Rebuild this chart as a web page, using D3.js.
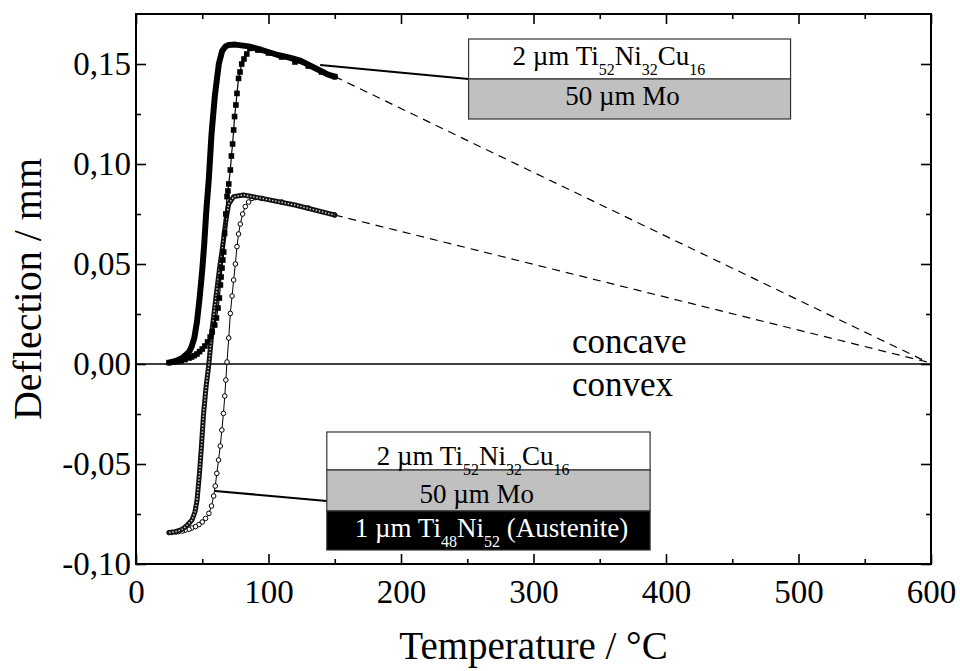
<!DOCTYPE html>
<html>
<head>
<meta charset="utf-8">
<script src="https://cdn.jsdelivr.net/npm/d3@7"></script>
<style>
  body { margin: 0; background: #fff; }
  text { font-family: "Liberation Serif", "Times New Roman", serif; fill: #000; }
</style>
</head>
<body>
<div id="chart"></div>
<script>
// Ti52Ni32Cu16 / Mo bimorph, heating and cooling (upper loop)
const topHeatT = [25, 30, 35, 40, 42, 44, 46, 48, 50, 51.5, 53, 55, 57, 59.5, 62.5, 65, 67.5, 70, 75, 85, 95, 107, 116, 124, 135, 145, 150];
const topHeatD = [0.0007, 0.0015, 0.003, 0.006, 0.0087, 0.013, 0.021, 0.033, 0.047, 0.06, 0.076, 0.093, 0.115, 0.134, 0.150, 0.1565, 0.1588, 0.1595, 0.1597, 0.1588, 0.157, 0.1545, 0.1532, 0.1517, 0.148, 0.1447, 0.1437];

const topCoolT = [150, 140, 130, 120, 110, 100, 92, 86, 83.6, 81.5, 79.8, 78.5, 77.4, 76.2, 75.4, 74.4, 73.7, 72.9, 72, 71.2, 70, 69.4, 68.7, 67.8, 66.9, 66.2, 65.5, 64.9, 64.2, 63.7, 62.9, 61.9, 60.7, 59.4, 57.5, 56, 54, 52, 50, 48, 46, 44, 42, 40, 37, 34, 31, 28, 25];
const topCoolD = [0.1437, 0.146, 0.149, 0.151, 0.1535, 0.1555, 0.157, 0.1578, 0.155, 0.1525, 0.150, 0.146, 0.1428, 0.1353, 0.1295, 0.1237, 0.117, 0.110, 0.104, 0.097, 0.090, 0.0865, 0.0837, 0.075, 0.0653, 0.056, 0.052, 0.048, 0.0435, 0.0395, 0.033, 0.028, 0.023, 0.0195, 0.016, 0.0135, 0.011, 0.009, 0.0075, 0.0062, 0.005, 0.0042, 0.0035, 0.003, 0.0022, 0.0016, 0.0012, 0.0009, 0.0007];

// with the additional Ti48Ni52 layer (lower loop)
const lowHeatT = [25, 30, 34.8, 38, 42.3, 44.5, 46.1, 47.9, 49.4, 51, 52.9, 55, 57.4, 60.4, 62.9, 65.4, 67.9, 69.9, 73.7, 81, 95, 120, 145, 150];
const lowHeatD = [-0.0843, -0.0838, -0.0827, -0.081, -0.078, -0.074, -0.068, -0.0547, -0.041, -0.0247, -0.0113, 0.0, 0.017, 0.0337, 0.047, 0.0587, 0.072, 0.080, 0.0837, 0.0845, 0.0828, 0.0795, 0.0753, 0.0745];

const lowCoolT = [150, 130, 110, 95, 90, 87.5, 85, 82.5, 80.5, 78.7, 77.4, 76.2, 75, 73.7, 72.5, 71.2, 70, 68.7, 67.8, 67, 66, 64.8, 63.6, 62.3, 61, 59.8, 58.6, 57, 55, 52.5, 50, 47.5, 44.9, 42, 40, 37, 35, 32, 30, 27, 25];
const lowCoolD = [0.0745, 0.078, 0.081, 0.0828, 0.0832, 0.0828, 0.081, 0.0787, 0.075, 0.070, 0.065, 0.0587, 0.050, 0.042, 0.034, 0.0253, 0.013, 0.001, -0.008, -0.016, -0.0247, -0.033, -0.041, -0.048, -0.0547, -0.061, -0.066, -0.071, -0.0747, -0.0772, -0.079, -0.0803, -0.0813, -0.082, -0.0826, -0.0831, -0.0835, -0.0838, -0.084, -0.0842, -0.0843];

// linear extrapolations to the flat state
const extrapT = [150, 597];
const extrapTopD = [0.1437, 0.001];
const extrapLowD = [0.0745, 0.001];

const xTicks = [0, 100, 200, 300, 400, 500, 600];
const xMinor = [50, 150, 250, 350, 450, 550];
const yTicks = [-0.10, -0.05, 0.00, 0.05, 0.10, 0.15];
const yTickLabels = ["-0,10", "-0,05", "0,00", "0,05", "0,10", "0,15"];
const yMinor = [-0.075, -0.025, 0.025, 0.075, 0.125];

const width = 960, height = 671;
const x = d3.scaleLinear().domain([0, 600]).range([136, 931]);
const y = d3.scaleLinear().domain([-0.1, 0.175]).range([564, 14]);

const svg = d3.select("#chart").append("svg")
    .attr("width", width)
    .attr("height", height);

function pts(ts, ds) { return ts.map(function(t, i) { return {t: t, d: ds[i]}; }); }

const line = d3.line()
    .x(function(p) { return x(p.t); })
    .y(function(p) { return y(p.d); });

// dashed extrapolations
[extrapTopD, extrapLowD].forEach(function(ds) {
    svg.append("path")
        .datum(pts(extrapT, ds))
        .attr("d", line)
        .attr("fill", "none")
        .attr("stroke", "#000")
        .attr("stroke-width", 1.2)
        .attr("stroke-dasharray", "8,6");
});

// zero line
svg.append("line")
    .attr("x1", x(0)).attr("x2", x(600))
    .attr("y1", y(0)).attr("y2", y(0))
    .attr("stroke", "#000")
    .attr("stroke-width", 1.5);

// lower loop, cooling: sparse open circles
svg.append("path")
    .datum(pts(lowCoolT, lowCoolD))
    .attr("d", line)
    .attr("fill", "none")
    .attr("stroke", "#000")
    .attr("stroke-width", 1);
svg.selectAll("circle.lc")
    .data(pts(lowCoolT, lowCoolD))
    .enter().append("circle")
    .attr("class", "lc")
    .attr("cx", function(p) { return x(p.t); })
    .attr("cy", function(p) { return y(p.d); })
    .attr("r", 2.3)
    .attr("fill", "#fff")
    .attr("stroke", "#000")
    .attr("stroke-width", 1);

// lower loop, heating: dense open circles -> dark band
svg.append("path")
    .datum(pts(lowHeatT, lowHeatD))
    .attr("d", line)
    .attr("fill", "none")
    .attr("stroke", "#111")
    .attr("stroke-width", 5)
    .attr("stroke-linejoin", "round")
    .attr("stroke-linecap", "round");
svg.append("path")
    .datum(pts(lowHeatT, lowHeatD))
    .attr("d", line)
    .attr("fill", "none")
    .attr("stroke", "#ccc")
    .attr("stroke-width", 1.6)
    .attr("stroke-dasharray", "1.4,1.8");

// upper loop, cooling: filled squares
svg.append("path")
    .datum(pts(topCoolT, topCoolD))
    .attr("d", line)
    .attr("fill", "none")
    .attr("stroke", "#000")
    .attr("stroke-width", 1.2);
svg.selectAll("rect.tc")
    .data(pts(topCoolT, topCoolD))
    .enter().append("rect")
    .attr("class", "tc")
    .attr("x", function(p) { return x(p.t) - 2.8; })
    .attr("y", function(p) { return y(p.d) - 2.8; })
    .attr("width", 5.6)
    .attr("height", 5.6)
    .attr("fill", "#000");

// upper loop, heating: dense filled squares -> thick line
svg.append("path")
    .datum(pts(topHeatT, topHeatD))
    .attr("d", line)
    .attr("fill", "none")
    .attr("stroke", "#000")
    .attr("stroke-width", 6)
    .attr("stroke-linejoin", "round")
    .attr("stroke-linecap", "round");

// axes frame
svg.append("rect")
    .attr("x", x(0)).attr("y", y(0.175))
    .attr("width", x(600) - x(0))
    .attr("height", y(-0.1) - y(0.175))
    .attr("fill", "none")
    .attr("stroke", "#000")
    .attr("stroke-width", 2);

function styleAxis(g) {
    g.select(".domain").remove();
    g.selectAll(".tick line").attr("stroke", "#000").attr("stroke-width", 1.6);
    g.selectAll(".tick text")
        .style("font-family", "'Liberation Serif', 'Times New Roman', serif")
        .style("font-size", "33px")
        .attr("fill", "#000");
}

svg.append("g")
    .attr("transform", "translate(0," + y(-0.1) + ")")
    .call(d3.axisBottom(x).tickValues(xTicks).tickSize(-10).tickPadding(9).tickFormat(d3.format("d")))
    .call(styleAxis)
    .selectAll(".tick text").attr("dy", "0.9em");
svg.append("g")
    .attr("transform", "translate(0," + y(-0.1) + ")")
    .call(d3.axisBottom(x).tickValues(xMinor).tickSize(-5).tickFormat(""))
    .call(styleAxis);
svg.append("g")
    .attr("transform", "translate(0," + y(0.175) + ")")
    .call(d3.axisTop(x).tickValues(xTicks).tickSize(-10).tickFormat(""))
    .call(styleAxis);
svg.append("g")
    .attr("transform", "translate(0," + y(0.175) + ")")
    .call(d3.axisTop(x).tickValues(xMinor).tickSize(-5).tickFormat(""))
    .call(styleAxis);

svg.append("g")
    .attr("transform", "translate(" + x(0) + ",0)")
    .call(d3.axisLeft(y).tickValues(yTicks).tickSize(-10).tickPadding(5)
        .tickFormat(function(v, i) { return yTickLabels[i]; }))
    .call(styleAxis);
svg.append("g")
    .attr("transform", "translate(" + x(0) + ",0)")
    .call(d3.axisLeft(y).tickValues(yMinor).tickSize(-5).tickFormat(""))
    .call(styleAxis);
svg.append("g")
    .attr("transform", "translate(" + x(600) + ",0)")
    .call(d3.axisRight(y).tickValues(yTicks).tickSize(-10).tickFormat(""))
    .call(styleAxis);
svg.append("g")
    .attr("transform", "translate(" + x(600) + ",0)")
    .call(d3.axisRight(y).tickValues(yMinor).tickSize(-5).tickFormat(""))
    .call(styleAxis);

// axis titles
svg.append("text")
    .attr("x", (x(0) + x(600)) / 2)
    .attr("y", 659)
    .attr("text-anchor", "middle")
    .style("font-size", "39px")
    .text("Temperature / °C");
svg.append("text")
    .attr("transform", "translate(41," + (y(-0.1) + y(0.175)) / 2 + ") rotate(-90)")
    .attr("text-anchor", "middle")
    .style("font-size", "40px")
    .text("Deflection / mm");

// concave / convex
svg.append("text")
    .attr("x", x(329)).attr("y", y(0.0055))
    .style("font-size", "35px")
    .text("concave");
svg.append("text")
    .attr("x", x(329)).attr("y", y(-0.016))
    .style("font-size", "35px")
    .text("convex");

// layer sketches
function chem(g, cx, cy, parts, color, anchor) {
    const t = g.append("text")
        .attr("x", cx).attr("y", cy)
        .attr("text-anchor", anchor)
        .style("font-size", "27px")
        .attr("fill", color)
        .style("fill", color);
    let shifted = false;
    parts.forEach(function(p) {
        const ts = t.append("tspan").text(p.s).style("fill", color);
        if (p.sub) {
            ts.attr("dy", shifted ? 0 : 10).style("font-size", "16px");
            shifted = true;
        } else {
            ts.attr("dy", shifted ? -10 : 0).style("font-size", "27px");
            shifted = false;
        }
    });
}

const tinicu = [{s: "2 µm Ti"}, {s: "52", sub: true}, {s: "Ni"}, {s: "32", sub: true}, {s: "Cu"}, {s: "16", sub: true}];
const mo = [{s: "50 µm Mo"}];
const tini = [{s: "1 µm Ti"}, {s: "48", sub: true}, {s: "Ni"}, {s: "52", sub: true}, {s: " (Austenite)"}];

// pointers
svg.append("line")
    .attr("x1", x(139)).attr("y1", y(0.1495))
    .attr("x2", x(251)).attr("y2", y(0.1425))
    .attr("stroke", "#000").attr("stroke-width", 2.2);
svg.append("line")
    .attr("x1", x(59.6)).attr("y1", y(-0.0635))
    .attr("x2", x(144)).attr("y2", y(-0.0685))
    .attr("stroke", "#000").attr("stroke-width", 2.2);

function stack(t0, t1, ds, fills) {
    const g = svg.append("g");
    fills.forEach(function(f, i) {
        g.append("rect")
            .attr("x", x(t0)).attr("y", y(ds[i]))
            .attr("width", x(t1) - x(t0))
            .attr("height", y(ds[i + 1]) - y(ds[i]))
            .attr("fill", f)
            .attr("stroke", "#333")
            .attr("stroke-width", 1.2);
    });
    return g;
}

const b1 = stack(251, 494, [0.1625, 0.1425, 0.1225], ["#fff", "#c0c0c0"]);
chem(b1, x(251) + 44, y(0.1495), tinicu, "#000", "start");
chem(b1, x(251) + 154, y(0.1295), mo, "#000", "middle");

const b2 = stack(144, 388, [-0.034, -0.053, -0.0735, -0.093], ["#fff", "#c0c0c0", "#000"]);
chem(b2, x(144) + 50, y(-0.0505), tinicu, "#000", "start");
chem(b2, x(144) + 150, y(-0.0695), mo, "#000", "middle");
chem(b2, x(144) + 28, y(-0.0865), tini, "#fff", "start");
</script>
</body>
</html>
